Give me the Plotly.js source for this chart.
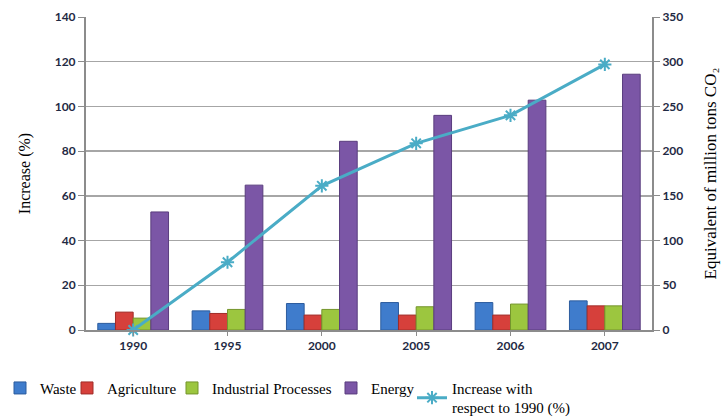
<!DOCTYPE html>
<html>
<head>
<meta charset="utf-8">
<script src="https://cdn.plot.ly/plotly-3.0.1.min.js"></script>
<style>html,body{margin:0;padding:0;background:#fff;}#chart{width:728px;height:420px;}</style>
</head>
<body>
<div id="chart"></div>
<script>
const years = ["1990", "1995", "2000", "2005", "2006", "2007"];
const waste = [7.4, 21.4, 29.6, 30.7, 30.7, 32.6];
const agriculture = [20, 18.5, 16.7, 16.7, 16.7, 27];
const industrial = [13.3, 23, 23, 26, 29, 27];
const energy = [132, 162, 211, 240, 257, 286];
const increasePct = [0, 30.3, 64.5, 83.5, 96, 118.8];
const leftTicks = [0, 20, 40, 60, 80, 100, 120, 140];
const rightTicks = [0, 50, 100, 150, 200, 250, 300, 350];

const serif = "Liberation Serif, Times New Roman, serif";
const tickFont = {family: "Lato, Open Sans, sans-serif", size: 12, color: "#1f2a44", weight: 700};
const legendName = "Increase with<br>respect to 1990 (%)";

function barTrace(name, vals, color, lineColor, lg) {
  return {type: "bar", name: name, x: years, y: vals, yaxis: "y", legend: lg,
    marker: {color: color, line: {color: lineColor, width: 1}}, hoverinfo: "skip"};
}

const data = [
  barTrace("Waste", waste, "#3f7ccc", "#2c5c9e", "legend"),
  barTrace("Agriculture", agriculture, "#d6403b", "#a02c28", "legend2"),
  barTrace("Industrial Processes", industrial, "#9cc63f", "#74952c", "legend3"),
  barTrace("Energy", energy, "#7b56a6", "#5a3d7e", "legend4"),
  {type: "scatter", mode: "lines+markers", name: legendName, x: years, y: increasePct, yaxis: "y2",
    legend: "legend5", cliponaxis: false,
    line: {color: "#4aacc6", width: 3},
    marker: {symbol: "asterisk-open", size: 11, color: "#4aacc6", line: {color: "#4aacc6", width: 2}},
    hoverinfo: "skip"}
];

function lg(px) {
  return {orientation: "h", xref: "container", yref: "container", x: px / 728, xanchor: "left",
    y: 0.115, yanchor: "top", font: {family: serif, size: 15, color: "#000"}, itemwidth: 30,
    bgcolor: "rgba(0,0,0,0)"};
}

const layout = {
  width: 728, height: 420,
  margin: {l: 86, r: 76, t: 17, b: 90},
  paper_bgcolor: "#ffffff", plot_bgcolor: "#ffffff",
  barmode: "group", bargap: 0.25, bargroupgap: 0,
  showlegend: true,
  legend: lg(0), legend2: lg(67), legend3: lg(172), legend4: lg(331), legend5: lg(412),
  xaxis: {type: "category", showgrid: false, showline: true, linecolor: "#8c8c8c", linewidth: 2,
    ticks: "outside", ticklen: 4, tickcolor: "#8c8c8c", tickfont: tickFont, zeroline: false},
  yaxis: {range: [0, 350], tickvals: rightTicks, ticktext: rightTicks.map(String), side: "right",
    showgrid: true, gridcolor: "#a6a6a6", gridwidth: 1.5, showline: true, linecolor: "#8c8c8c", linewidth: 2,
    ticks: "outside", ticklen: 6, tickcolor: "#8c8c8c", tickfont: tickFont, zeroline: false,
    title: {text: "Equivalent of million tons CO\u2082", font: {family: serif, size: 17, color: "#000"}, standoff: 22}},
  yaxis2: {range: [0, 140], tickvals: leftTicks, ticktext: leftTicks.map(String), overlaying: "y", side: "left",
    showgrid: false, showline: true, linecolor: "#8c8c8c", linewidth: 2,
    ticks: "outside", ticklen: 6, tickcolor: "#8c8c8c", tickfont: tickFont, zeroline: false,
    title: {text: "Increase (%)", font: {family: serif, size: 16, color: "#000"}, standoff: 20}}
};

Plotly.newPlot("chart", data, layout, {displayModeBar: false, staticPlot: true});
</script>
</body>
</html>
